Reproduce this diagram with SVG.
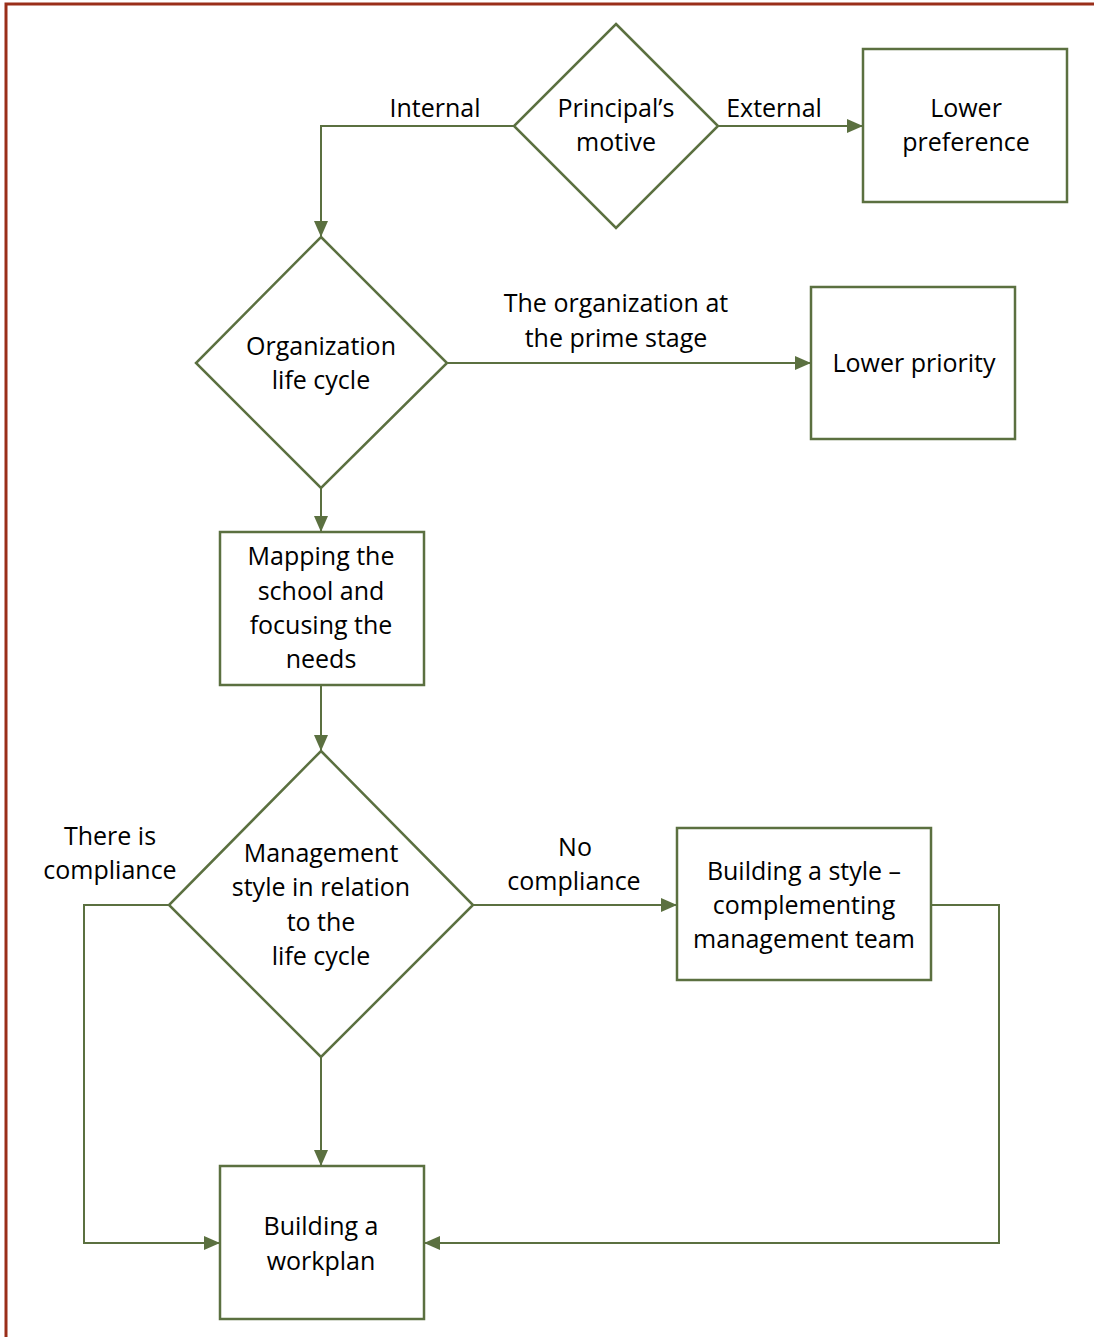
<svg xmlns="http://www.w3.org/2000/svg" width="1094" height="1337" viewBox="0 0 1094 1337">
<style>
.n{fill:#fff;stroke:#5b7040;stroke-width:2.5}
.c{fill:none;stroke:#5b7040;stroke-width:2}
text{font-family:"Open Sans","Liberation Sans",Arial,sans-serif;font-size:25px;fill:#000;text-anchor:middle}
.b{fill:none;stroke:#9a2e1a;stroke-width:3}
</style>
<defs>
<marker id="ah" markerWidth="16" markerHeight="14" refX="15" refY="7" orient="auto" markerUnits="userSpaceOnUse">
<path d="M0,0 L16,7 L0,14 Z" fill="#5b7040"/>
</marker>
</defs>
<path class="b" d="M6,1337 V4 H1094"/>
<g id="connectors">
<path class="c" d="M514,126 H321 V236" marker-end="url(#ah)"/>
<path class="c" d="M718,126 H862" marker-end="url(#ah)"/>
<path class="c" d="M447,363 H810" marker-end="url(#ah)"/>
<path class="c" d="M321,488 V531" marker-end="url(#ah)"/>
<path class="c" d="M321,685 V750" marker-end="url(#ah)"/>
<path class="c" d="M473,905 H676" marker-end="url(#ah)"/>
<path class="c" d="M321,1057 V1165" marker-end="url(#ah)"/>
<path class="c" d="M169,905 H84 V1243 H219" marker-end="url(#ah)"/>
<path class="c" d="M931,905 H999 V1243 H425" marker-end="url(#ah)"/>
<text x="435" y="117">Internal</text>
<text x="774" y="117">External</text>
<text x="616" y="312">The organization at</text>
<text x="616" y="347">the prime stage</text>
<text x="110" y="845">There is</text>
<text x="110" y="879">compliance</text>
<text x="575" y="856">No</text>
<text x="574" y="890">compliance</text>
</g>
<g id="principal">
<polygon class="n" points="616,24 718,126 616,228 514,126"/>
<text x="616" y="117">Principal’s</text>
<text x="616" y="151">motive</text>
</g>
<g id="lowerPreference">
<rect class="n" x="863" y="49" width="204" height="153"/>
<text x="966" y="117">Lower</text>
<text x="966" y="151">preference</text>
</g>
<g id="orgLifeCycle">
<polygon class="n" points="321,237 447,363 321,488 196,363"/>
<text x="321" y="355">Organization</text>
<text x="321" y="389">life cycle</text>
</g>
<g id="lowerPriority">
<rect class="n" x="811" y="287" width="204" height="152"/>
<text x="914" y="372">Lower priority</text>
</g>
<g id="mapping">
<rect class="n" x="220" y="532" width="204" height="153"/>
<text x="321" y="565">Mapping the</text>
<text x="321" y="600">school and</text>
<text x="321" y="634">focusing the</text>
<text x="321" y="668">needs</text>
</g>
<g id="managementStyle">
<polygon class="n" points="321,751 473,905 321,1057 169,905"/>
<text x="321" y="862">Management</text>
<text x="321" y="896">style in relation</text>
<text x="321" y="931">to the</text>
<text x="321" y="965">life cycle</text>
</g>
<g id="buildingStyle">
<rect class="n" x="677" y="828" width="254" height="152"/>
<text x="804" y="880">Building a style –</text>
<text x="804" y="914">complementing</text>
<text x="804" y="948">management team</text>
</g>
<g id="workplan">
<rect class="n" x="220" y="1166" width="204" height="153"/>
<text x="321" y="1235">Building a</text>
<text x="321" y="1270">workplan</text>
</g>
</svg>
